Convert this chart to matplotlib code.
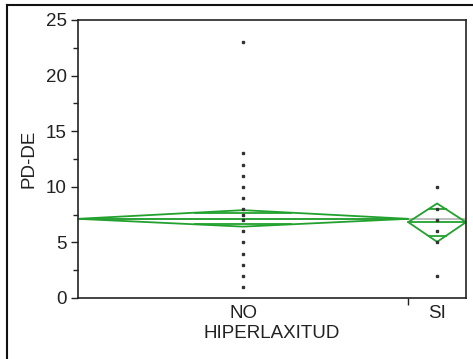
import numpy as np
import matplotlib
matplotlib.use("Agg")
import matplotlib.pyplot as plt
from matplotlib.lines import Line2D
from matplotlib.patches import Polygon

plt.rcParams["font.family"] = ["Liberation Sans", "DejaVu Sans"]

# group info (x width of each group is proportional to its count)
groups = ["NO", "SI"]
group_n = [40, 7]

# observed PD-DE values per group
no_values = [1, 2, 3, 4, 5, 6, 7, 7.5, 8, 9, 10, 11, 12, 13, 23]
si_values = [2, 5, 6, 7, 8, 10]

# means diamonds (mean and 95% CI)
group_mean = [7.12, 6.82]
ci_lower = [6.42, 5.05]
ci_upper = [7.9, 8.5]
grand_mean = 7.12

y_ticks = [0, 5, 10, 15, 20, 25]

green = "#22a12e"

fig = plt.figure(figsize=(4.73, 3.59), dpi=100)
ax = fig.add_axes([78 / 473, 1 - 298 / 359, (466 - 78) / 473, (298 - 20) / 359])

edges = np.concatenate([[0], np.cumsum(group_n)])
centers = (edges[:-1] + edges[1:]) / 2

# grand mean line
ax.axhline(grand_mean, color="#b0b0b0", lw=1.2, zorder=1)

for i, vals in enumerate([no_values, si_values]):
    left, right, c = edges[i], edges[i + 1], centers[i]
    m, lo, hi = group_mean[i], ci_lower[i], ci_upper[i]
    dia = Polygon([(left, m), (c, hi), (right, m), (c, lo)], closed=True,
                  fill=False, edgecolor=green, lw=1.3, zorder=2)
    ax.add_patch(dia)
    ax.plot([left, right], [m, m], color=green, lw=1.3, zorder=2)
    # overlap marks
    hw = (right - left) / 2 * (1 - 1 / np.sqrt(2))
    for d in [(hi - m), (lo - m)]:
        yy = m + d / np.sqrt(2)
        ax.plot([c - hw, c + hw], [yy, yy], color=green, lw=1.3, zorder=2)
    ax.plot([c] * len(vals), vals, ls="none", marker="s", ms=2,
            color="#333333", zorder=3)

ax.set_xlim(edges[0], edges[-1])
ax.set_ylim(0, 25)

ax.set_yticks(y_ticks)
ax.set_yticks(np.arange(2.5, 25, 5), minor=True)
ax.tick_params(axis="y", which="major", length=5, width=1, pad=3,
               labelsize=13.5, colors="#222222")
ax.tick_params(axis="y", which="minor", length=3.5, width=1, colors="#222222")

ax.set_xticks(edges[1:-1])
ax.set_xticklabels([""] * (len(edges) - 2))
ax.set_xticks(centers, minor=True)
ax.set_xticklabels(groups, minor=True)
ax.tick_params(axis="x", which="major", length=5, width=1, colors="#222222")
ax.tick_params(axis="x", which="minor", length=0, pad=5, labelsize=13.5,
               colors="#222222")

ax.set_xlabel("HIPERLAXITUD", fontsize=13.5, color="#222222", labelpad=2)
ax.set_ylabel("PD-DE", fontsize=13.5, color="#222222", labelpad=6)

for s in ax.spines.values():
    s.set_linewidth(1.2)
    s.set_color("#222222")

# outer report frame (cropped screenshot)
fig.add_artist(Line2D([7 / 473, 7 / 473], [0, 1 - 5 / 359], color="#111111",
                      lw=1.5, transform=fig.transFigure))
fig.add_artist(Line2D([7 / 473, 1], [1 - 5 / 359, 1 - 5 / 359], color="#111111",
                      lw=1.5, transform=fig.transFigure))

fig.savefig("out.png", dpi=100)
